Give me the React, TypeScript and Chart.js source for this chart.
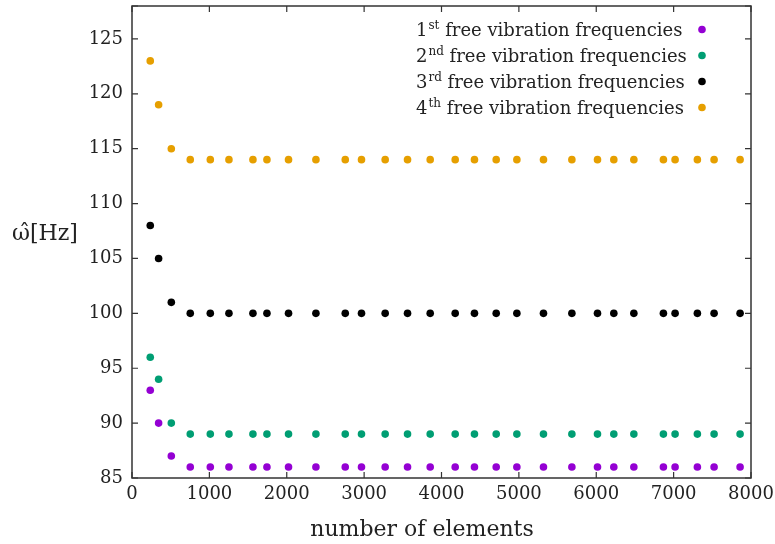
import React, { useEffect, useRef } from "react";
import { Chart, registerables } from "chart.js";

Chart.register(...registerables);

const elementCounts = [
  236, 344, 508, 753, 1012, 1253, 1563, 1744, 2023, 2377, 2756, 2966, 3272, 3561, 3854,
  4177, 4426, 4707, 4974, 5318, 5685, 6016, 6227, 6486, 6868, 7019, 7307, 7523, 7859,
];
const freq1st = [93, 90, 87, 86, 86, 86, 86, 86, 86, 86, 86, 86, 86, 86, 86, 86, 86, 86, 86, 86, 86, 86, 86, 86, 86, 86, 86, 86, 86];
const freq2nd = [96, 94, 90, 89, 89, 89, 89, 89, 89, 89, 89, 89, 89, 89, 89, 89, 89, 89, 89, 89, 89, 89, 89, 89, 89, 89, 89, 89, 89];
const freq3rd = [108, 105, 101, 100, 100, 100, 100, 100, 100, 100, 100, 100, 100, 100, 100, 100, 100, 100, 100, 100, 100, 100, 100, 100, 100, 100, 100, 100, 100];
const freq4th = [123, 119, 115, 114, 114, 114, 114, 114, 114, 114, 114, 114, 114, 114, 114, 114, 114, 114, 114, 114, 114, 114, 114, 114, 114, 114, 114, 114, 114];

const seriesNumbers = ["1", "2", "3", "4"];
const seriesSuffixes = ["st", "nd", "rd", "th"];
const seriesText = " free vibration frequencies";
const seriesColors = ["#9400d3", "#009e73", "#000000", "#e69f00"];
const seriesValues = [freq1st, freq2nd, freq3rd, freq4th];

const xTitle = "number of elements";
const yTitle = "\u03c9\u0302[Hz]";

const FONT = "'DejaVu Serif', serif";
const TEXT = "#222222";

const framePlugin = {
  id: "frameAndText",
  afterDraw(chart: any) {
    const { ctx, chartArea: a, scales } = chart;
    const xs = scales.x;
    const ys = scales.y;
    ctx.save();
    // frame
    ctx.strokeStyle = "#333333";
    ctx.lineWidth = 1.5;
    ctx.strokeRect(a.left, a.top, a.right - a.left, a.bottom - a.top);
    // inward ticks
    const tl = 6;
    ctx.lineWidth = 1.2;
    ctx.beginPath();
    xs.ticks.forEach((t: any) => {
      const px = xs.getPixelForValue(t.value);
      ctx.moveTo(px, a.bottom);
      ctx.lineTo(px, a.bottom - tl);
      ctx.moveTo(px, a.top);
      ctx.lineTo(px, a.top + tl);
    });
    ys.ticks.forEach((t: any) => {
      const py = ys.getPixelForValue(t.value);
      ctx.moveTo(a.left, py);
      ctx.lineTo(a.left + tl, py);
      ctx.moveTo(a.right, py);
      ctx.lineTo(a.right - tl, py);
    });
    ctx.stroke();

    // legend
    ctx.textBaseline = "alphabetic";
    ctx.textAlign = "left";
    for (let i = 0; i < seriesNumbers.length; i++) {
      const rowY = a.top + 23.5 + i * 26;
      let x = 416;
      ctx.font = `18px ${FONT}`;
      ctx.fillStyle = TEXT;
      ctx.fillText(seriesNumbers[i], x, rowY + 6);
      x += ctx.measureText(seriesNumbers[i]).width + 1;
      ctx.font = `12px ${FONT}`;
      ctx.fillText(seriesSuffixes[i], x, rowY - 1);
      x += ctx.measureText(seriesSuffixes[i]).width;
      ctx.font = `18px ${FONT}`;
      ctx.fillText(seriesText, x, rowY + 6);
      ctx.fillStyle = seriesColors[i];
      ctx.beginPath();
      ctx.arc(702, rowY, 3.8, 0, Math.PI * 2);
      ctx.fill();
    }

    // axis titles
    ctx.fillStyle = TEXT;
    ctx.font = `22px ${FONT}`;
    ctx.textAlign = "center";
    ctx.fillText(xTitle, 422, 536);
    ctx.textAlign = "left";
    ctx.fillText(yTitle, 12, 240);
    ctx.restore();
  },
};

export default function App() {
  const canvasRef = useRef<HTMLCanvasElement | null>(null);

  useEffect(() => {
    const canvas = canvasRef.current;
    if (!canvas) return;
    const chart = new Chart(canvas, {
      type: "scatter",
      data: {
        datasets: seriesValues.map((vals, i) => ({
          label: seriesNumbers[i] + seriesSuffixes[i] + seriesText,
          data: elementCounts.map((n, j) => ({ x: n, y: vals[j] })),
          backgroundColor: seriesColors[i],
          borderColor: seriesColors[i],
          borderWidth: 0,
          pointRadius: 3.8,
          pointHoverRadius: 3.8,
          showLine: false,
        })),
      },
      options: {
        responsive: false,
        animation: false,
        events: [],
        layout: { padding: { left: 0, top: 6, right: 24, bottom: 0 } },
        plugins: {
          legend: { display: false },
          tooltip: { enabled: false },
        },
        scales: {
          x: {
            type: "linear",
            min: 0,
            max: 8000,
            border: { display: false },
            grid: { display: false, drawTicks: false },
            ticks: {
              stepSize: 1000,
              padding: 6,
              color: TEXT,
              font: { family: FONT, size: 18 },
              maxRotation: 0,
              callback: (v: any) => String(v),
            },
            afterFit: (s: any) => {
              s.height = 66;
              s.paddingLeft = 0;
              s.paddingRight = 0;
            },
          },
          y: {
            type: "linear",
            min: 85,
            max: 128,
            border: { display: false },
            grid: { display: false, drawTicks: false },
            ticks: {
              stepSize: 5,
              padding: 9,
              color: TEXT,
              font: { family: FONT, size: 18 },
              callback: (v: any) => (Number(v) % 5 === 0 ? String(v) : ""),
            },
            afterFit: (s: any) => {
              s.width = 132;
              s.paddingTop = 0;
              s.paddingBottom = 0;
            },
          },
        },
      },
      plugins: [framePlugin],
    });
    return () => chart.destroy();
  }, []);

  return (
    <div style={{ position: "fixed", left: 0, top: 0, width: 775, height: 544, background: "#fff" }}>
      <canvas ref={canvasRef} width={775} height={544} style={{ display: "block" }} />
    </div>
  );
}
